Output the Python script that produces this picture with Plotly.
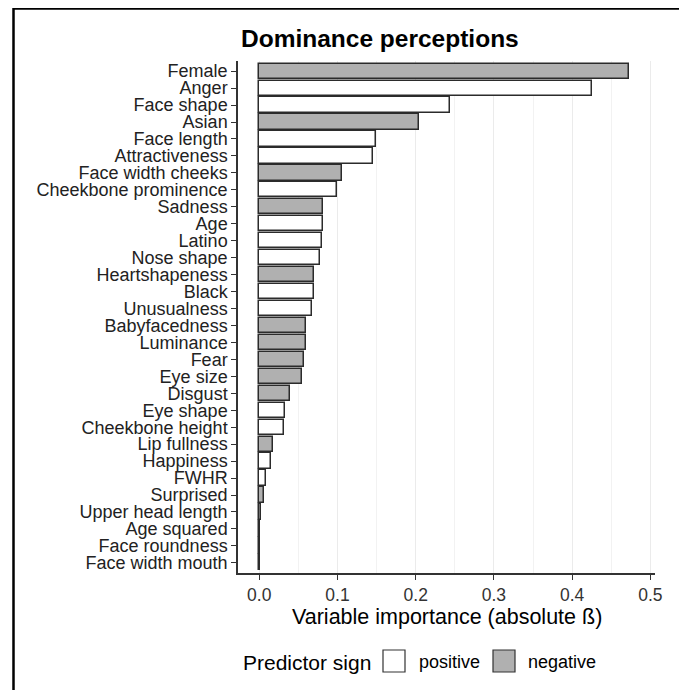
import plotly.graph_objects as go

categories = ["Female", "Anger", "Face shape", "Asian", "Face length", "Attractiveness",
              "Face width cheeks", "Cheekbone prominence", "Sadness", "Age", "Latino",
              "Nose shape", "Heartshapeness", "Black", "Unusualness", "Babyfacedness",
              "Luminance", "Fear", "Eye size", "Disgust", "Eye shape", "Cheekbone height",
              "Lip fullness", "Happiness", "FWHR", "Surprised", "Upper head length",
              "Age squared", "Face roundness", "Face width mouth"]
importance = [0.473, 0.425, 0.244, 0.204, 0.149, 0.145, 0.106, 0.099, 0.082, 0.081, 0.080,
              0.078, 0.070, 0.070, 0.067, 0.060, 0.060, 0.057, 0.055, 0.039, 0.033, 0.031,
              0.018, 0.015, 0.008, 0.006, 0.002, 0.001, 0.0005, 0.0003]
sign = ["negative", "positive", "positive", "negative", "positive", "positive",
        "negative", "positive", "negative", "positive", "positive",
        "positive", "negative", "positive", "positive", "negative",
        "negative", "negative", "negative", "negative", "positive", "positive",
        "negative", "positive", "positive", "negative", "negative",
        "positive", "positive", "positive"]
x_ticks = [0.0, 0.1, 0.2, 0.3, 0.4, 0.5]
x_ticklabels = ["0.0", "0.1", "0.2", "0.3", "0.4", "0.5"]

fill = {"positive": "#ffffff", "negative": "#b0b0b0"}
FONT = "Liberation Sans, Arial, sans-serif"

fig = go.Figure()
fig.add_trace(go.Bar(
    x=importance, y=categories, orientation="h",
    marker=dict(color=[fill[s] for s in sign], line=dict(color="#2b2b2b", width=1.5)),
    width=0.9, showlegend=False, hoverinfo="x+y",
))

# layout geometry (pixels); page body has an 8px margin, so subtract it
OFF = 8
W, H = 679, 682
L, T = 238 - OFF, 61 - OFF
R = W - (655 - OFF)
B = H - (573 - OFF)
pw, ph = W - L - R, H - T - B

def px(x):
    return (x - OFF - L) / pw

def py(y):
    return (H - B - (y - OFF)) / ph

shapes = []
# outer border
shapes.append(dict(type="rect", xref="paper", yref="paper",
                   x0=px(13.5), x1=px(681), y0=py(700), y1=py(8.5),
                   line=dict(color="black", width=2.5), fillcolor="rgba(0,0,0,0)", layer="below"))
# custom legend keys
shapes.append(dict(type="rect", xref="paper", yref="paper",
                   x0=px(383), x1=px(405), y0=py(672), y1=py(650),
                   line=dict(color="#333333", width=1.2), fillcolor=fill["positive"]))
shapes.append(dict(type="rect", xref="paper", yref="paper",
                   x0=px(493), x1=px(515), y0=py(672), y1=py(650),
                   line=dict(color="#333333", width=1.2), fillcolor=fill["negative"]))

annotations = [
    dict(text="<b>Dominance perceptions</b>", xref="paper", yref="paper", x=px(239), y=py(38),
         xanchor="left", yanchor="middle", showarrow=False,
         font=dict(family=FONT, size=24.5, color="black")),
    dict(text="Variable importance (absolute ß)", xref="paper", yref="paper", x=0.5, y=py(617),
         xanchor="center", yanchor="middle", showarrow=False,
         font=dict(family=FONT, size=21.5, color="black")),
    dict(text="Predictor sign", xref="paper", yref="paper", x=px(241), y=py(662),
         xanchor="left", yanchor="middle", showarrow=False,
         font=dict(family=FONT, size=21, color="black")),
    dict(text="positive", xref="paper", yref="paper", x=px(417), y=py(662),
         xanchor="left", yanchor="middle", showarrow=False,
         font=dict(family=FONT, size=18, color="black")),
    dict(text="negative", xref="paper", yref="paper", x=px(526), y=py(662),
         xanchor="left", yanchor="middle", showarrow=False,
         font=dict(family=FONT, size=18, color="black")),
]

fig.update_layout(
    width=W, height=H,
    margin=dict(l=L, r=R, t=T, b=B, autoexpand=False),
    paper_bgcolor="white", plot_bgcolor="white",
    font=dict(family=FONT, color="black"),
    shapes=shapes, annotations=annotations,
    bargap=0,
)
fig.update_xaxes(
    range=[-0.0272, 0.506], tickvals=x_ticks, ticktext=x_ticklabels,
    showgrid=True, gridcolor="#ebebeb", gridwidth=1,
    minor=dict(dtick=0.05, tick0=0, showgrid=True, gridcolor="#f2f2f2", gridwidth=0.6),
    showline=True, linecolor="#333333", linewidth=1.5,
    ticks="outside", ticklen=5, tickcolor="#333333", tickwidth=1.3,
    tickfont=dict(family=FONT, size=17.5, color="#333333"),
    zeroline=False, fixedrange=True,
)
fig.update_yaxes(
    categoryorder="array", categoryarray=categories,
    tickmode="array", tickvals=categories, ticktext=categories,
    range=[len(categories) - 0.4, -0.6],
    showgrid=False, showline=True, linecolor="#333333", linewidth=1.5,
    ticks="outside", ticklen=5, tickcolor="#333333", tickwidth=1.3,
    tickfont=dict(family=FONT, size=18, color="#222222"),
    zeroline=False, fixedrange=True,
)

fig.write_html("out.html")
